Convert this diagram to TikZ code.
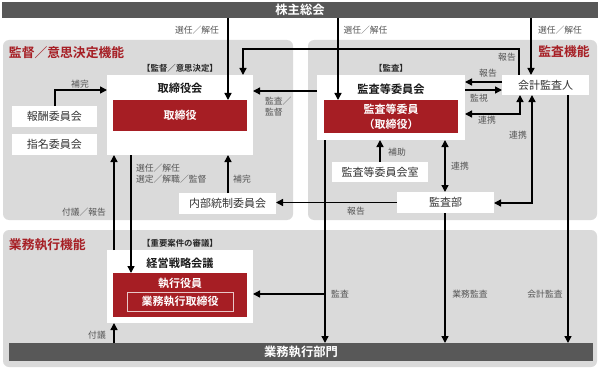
\documentclass[tikz,border=0pt]{standalone}
\usepackage{fontspec}
\setmainfont{Noto Sans CJK JP}[BoldFont={Noto Sans CJK JP Bold}]
\usepackage{tikz}
\usetikzlibrary{arrows.meta,positioning}
\definecolor{darkbar}{RGB}{88,88,88}
\definecolor{panelgray}{RGB}{218,218,218}
\definecolor{boardred}{RGB}{166,30,36}
\definecolor{labelgray}{RGB}{85,85,85}
\colorlet{accent}{boardred}

\begin{document}
\begin{tikzpicture}[x=1pt, y=-1pt,
  every node/.style={inner sep=0pt, outer sep=0pt},
  panel/.style={fill=panelgray, rounded corners=6pt},
  bar/.style={fill=darkbar, text=white, font=\fontsize{12.3}{14}\bfseries},
  wbox/.style={fill=white, text=black!80, font=\fontsize{11}{13}\selectfont},
  rbox/.style={fill=accent, text=white, font=\fontsize{11}{15}\bfseries, align=center},
  ttl/.style={font=\fontsize{11.2}{13}\bfseries, text=black!90},
  func/.style={font=\fontsize{12.8}{14}\bfseries, text=accent},
  tag/.style={font=\fontsize{8.4}{10}\bfseries, text=black!85},
  lbl/.style={font=\fontsize{8.8}{11.5}\selectfont, text=labelgray, align=left},
  arr/.style={line width=1.4pt, -{Triangle[length=7pt,width=7pt]}},
  darr/.style={line width=1.4pt, {Triangle[length=7pt,width=7pt]}-{Triangle[length=7pt,width=7pt]}}]
  \useasboundingbox (0,0) rectangle (600,369);
  \fill[panel] (3,40) rectangle (293,220); \fill[panel] (308,40) rectangle (597,220);
  \fill[panel] (3,230) rectangle (597,367);

  \node[bar, minimum width=596pt, minimum height=16pt] (topbar) at (300,10) {株主総会};
  \node[bar, minimum width=584pt, minimum height=18pt] (opbar) at (301,352) {業務執行部門};

  \node[func, anchor=west] (fsup) at (9,53) {監督／意思決定機能};
  \node[func] (faud) at (564,52) {監査機能};
  \node[func, anchor=west] (fexe) at (9,245) {業務執行機能};

  \node[tag] (tsup) at (180,68) {【監督／意思決定】};
  \node[tag] (taud) at (391,68) {【監査】};
  \node[tag] (texe) at (180,243) {【重要案件の審議】};

  \node[wbox, minimum width=146pt, minimum height=80pt] (bod) at (180,115) {};
  \node[ttl] (bodt) at (180,88) {取締役会};
  \node[rbox, minimum width=134pt, minimum height=31pt] (dir) at (180,115.5) {取締役};
  \node[wbox, minimum width=85pt, minimum height=21pt] (comp) at (54.5,116.5) {報酬委員会};
  \node[wbox, minimum width=85pt, minimum height=21pt] (nomi) at (54.5,144.5) {指名委員会};
  \node[wbox, minimum width=97pt, minimum height=21pt] (icc) at (227.5,203.5) {内部統制委員会};

  \node[wbox, minimum width=148pt, minimum height=65pt] (acb) at (391,107.5) {};
  \node[ttl] (acbt) at (391,89) {監査等委員会};
  \node[rbox, minimum width=134pt, minimum height=33pt] (acm) at (391,116.5) {監査等委員\\（取締役）};
  \node[wbox, minimum width=87pt, minimum height=20pt] (ext) at (545.5,85) {会計監査人};
  \node[wbox, minimum width=96pt, minimum height=20pt] (acs) at (380,172) {監査等委員会室};
  \node[wbox, minimum width=97pt, minimum height=21pt] (iad) at (445.5,202.5) {監査部};

  \node[wbox, minimum width=146pt, minimum height=73pt] (msc) at (180,286.5) {};
  \node[ttl] (msct) at (180,263) {経営戦略会議};
  \node[rbox, minimum width=134pt, minimum height=44pt] (exo) at (180,295) {};
  \node[rbox] (exot) at (180,283) {執行役員};
  \node[rbox, draw=white!75!accent, line width=0.8pt, minimum width=106pt, minimum height=19pt] (exd) at (180,301.5) {業務執行取締役};

  \draw[arr] (topbar.south -| 228,0) -- (dir.north -| 228,0);
  \draw[arr] (topbar.south -| 338,0) -- (acm.north -| 338,0);
  \draw[arr] (topbar.south -| 531,0) -- (ext.north -| 531,0);
  \draw[arr] (ext.north -| 519,0) -- ++(0,-26) -| (bod.north -| 243,0);
  \draw[arr] (acb.west |- 0,91) -- (bod.east |- 0,91);
  \draw[arr] (comp.north -| 55,0) |- (bod.west |- 0,90);
  \draw[arr] (ext.west |- 0,82) -- (acb.east |- 0,82);
  \draw[arr] (acb.east |- 0,90) -- (ext.west |- 0,90);
  \draw[darr] (acb.east |- 0,114) -| (ext.south -| 520,0);
  \draw[darr] (iad.east |- 0,203) -| (ext.south -| 532,0);
  \draw[arr] (ext.south -| 568,0) -- (opbar.north -| 568,0);
  \draw[arr] (acs.north) -- (acb.south -| acs.north);
  \draw[darr] (iad.north -| 445,0) -- (acb.south -| 445,0);
  \draw[arr] (iad.west) -- (icc.east |- iad.west);
  \draw[arr] (iad.south -| 445,0) -- (opbar.north -| 445,0);
  \draw[arr] (acb.south -| 325,0) -- (opbar.north -| 325,0);
  \coordinate (audj) at (325,294);
  \draw[arr] (audj) -- (msc.east |- audj);
  \draw[arr] (icc.north -| 228,0) -- (bod.south -| 228,0);
  \draw[arr] (bod.south -| 131,0) -- (exo.north -| 131,0);
  \draw[arr] (msc.north -| 114,0) -- (bod.south -| 114,0);
  \draw[arr] (opbar.north -| 114,0) -- (msc.south -| 114,0);

  \node[lbl] (lsel1) at (197,30) {選任／解任};
  \node[lbl] (lsel2) at (365.5,30) {選任／解任};
  \node[lbl] (lsel3) at (560,30) {選任／解任};
  \node[lbl] (lrep1) at (507,57) {報告};
  \node[lbl, anchor=west] (lsup) at (265,106.5) {監査／\\監督};
  \node[lbl] (lhok1) at (80,84) {補完};
  \node[lbl] (lrep2) at (488,73) {報告};
  \node[lbl] (lmon) at (479,98) {監視};
  \node[lbl] (lcop1) at (487,120) {連携};
  \node[lbl] (lcop2) at (518,135) {連携};
  \node[lbl] (lcop3) at (460,166) {連携};
  \node[lbl] (lassi) at (397,152) {補助};
  \node[lbl] (lrep3) at (356,211) {報告};
  \node[lbl] (laud) at (340,294) {監査};
  \node[lbl] (lbiz) at (470,294) {業務監査};
  \node[lbl] (lacc) at (545,294) {会計監査};
  \node[lbl] (lhok2) at (242,179) {補完};
  \node[lbl, anchor=west] (lsel4) at (136,173.5) {選任／解任\\選定／解職／監督};
  \node[lbl] (lfug1) at (84,212) {付議／報告};
  \node[lbl] (lfug2) at (97,335) {付議};
\end{tikzpicture}
\end{document}
